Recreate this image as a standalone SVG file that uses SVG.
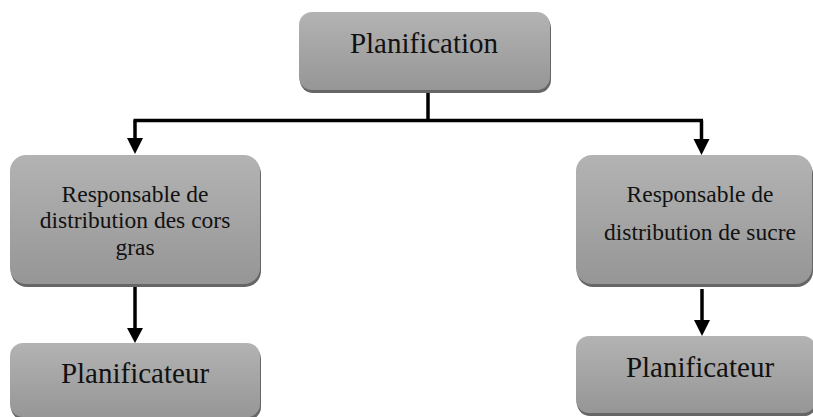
<svg xmlns="http://www.w3.org/2000/svg" width="813" height="417" viewBox="0 0 813 417">
  <defs>
    <linearGradient id="boxFill" x1="0" y1="0" x2="0" y2="1">
      <stop offset="0" stop-color="#b3b3b3"/>
      <stop offset="1" stop-color="#969696"/>
    </linearGradient>
    <marker id="arrow" markerUnits="userSpaceOnUse" markerWidth="16" markerHeight="16" viewBox="0 0 16 16" refX="8" refY="15" orient="auto-start-reverse">
      <path d="M0,0 L16,0 L8,16 Z" fill="#000"/>
    </marker>
  </defs>
  <style>
    .shadow { fill: #666666; }
    .box { fill: url(#boxFill); }
    .label { font-family: "Liberation Serif", "Times New Roman", serif; fill: #111; text-anchor: middle; }
    .big { font-size: 29px; }
    .small { font-size: 23.5px; }
    .wire { stroke: #000; stroke-width: 3.5; fill: none; }
  </style>
  <rect width="813" height="417" fill="#fff"/>

  <!-- connectors -->
  <g id="connectors">
    <path class="wire" d="M428,92 V120.5"/>
    <path class="wire" d="M133.5,120.5 H703"/>
    <path class="wire" d="M135,120.5 V140" />
    <path d="M127,138 L143,138 L135,154 Z" fill="#000"/>
    <path class="wire" d="M701.5,120.5 V141"/>
    <path d="M693.5,139 L709.5,139 L701.5,155 Z" fill="#000"/>
    <path class="wire" d="M135,287 V330"/>
    <path d="M127,328 L143,328 L135,343 Z" fill="#000"/>
    <path class="wire" d="M702,289 V322"/>
    <path d="M694,320 L710,320 L702,336 Z" fill="#000"/>
  </g>

  <!-- top node -->
  <g id="planification">
    <rect class="shadow" x="300" y="15" width="251" height="78" rx="13"/>
    <rect class="box" x="299" y="12" width="251" height="78" rx="13"/>
    <text class="label big" x="424" y="53">Planification</text>
  </g>

  <!-- left branch -->
  <g id="resp-corps-gras">
    <rect class="shadow" x="11" y="158" width="250" height="129" rx="16"/>
    <rect class="box" x="10" y="155" width="250" height="129" rx="16"/>
    <text class="label small" x="135" y="202">Responsable de</text>
    <text class="label small" x="135" y="228">distribution des cors</text>
    <text class="label small" x="135" y="255">gras</text>
  </g>

  <g id="planificateur-gauche">
    <rect class="shadow" x="11" y="346" width="250" height="74" rx="13"/>
    <rect class="box" x="10" y="343" width="250" height="74" rx="13"/>
    <text class="label big" x="135" y="383">Planificateur</text>
  </g>

  <!-- right branch -->
  <g id="resp-sucre">
    <rect class="shadow" x="577" y="158" width="236" height="129" rx="16"/>
    <rect class="box" x="576" y="155" width="236" height="129" rx="16"/>
    <text class="label small" x="700" y="202">Responsable de</text>
    <text class="label small" x="700" y="240">distribution de sucre</text>
  </g>

  <g id="planificateur-droite">
    <rect class="shadow" x="577" y="339" width="240" height="77" rx="13"/>
    <rect class="box" x="576" y="336" width="240" height="77" rx="13"/>
    <text class="label big" x="700" y="377">Planificateur</text>
  </g>
</svg>
